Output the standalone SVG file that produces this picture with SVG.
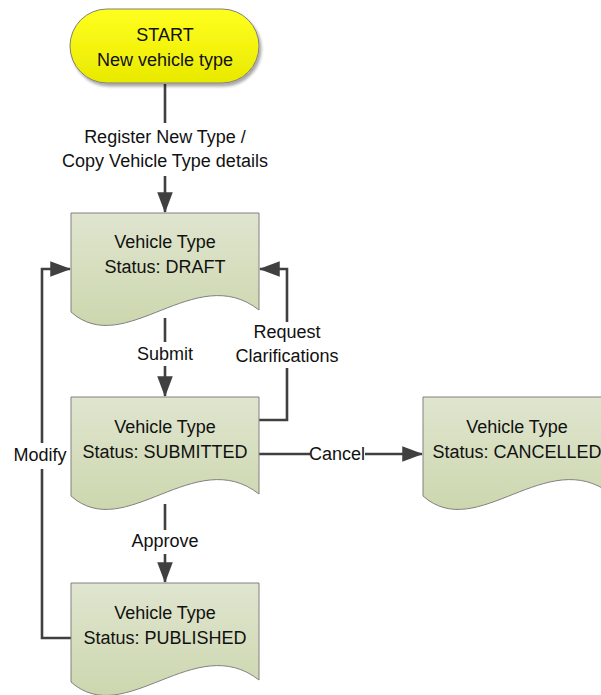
<svg xmlns="http://www.w3.org/2000/svg" width="601" height="695" viewBox="0 0 601 695">
<defs>
<linearGradient id="gGreen" x1="0" y1="0" x2="0" y2="1">
<stop offset="0" stop-color="#e0e5cf"/>
<stop offset="1" stop-color="#ccd7ae"/>
</linearGradient>
<linearGradient id="gYellow" x1="0" y1="0" x2="0" y2="1">
<stop offset="0" stop-color="#ffff20"/>
<stop offset="1" stop-color="#e9e900"/>
</linearGradient>
<filter id="sh" x="-10%" y="-10%" width="130%" height="140%">
<feGaussianBlur in="SourceAlpha" stdDeviation="1.5"/>
<feOffset dx="2" dy="3" result="b"/>
<feComponentTransfer><feFuncA type="linear" slope="0.35"/></feComponentTransfer>
<feMerge><feMergeNode/><feMergeNode in="SourceGraphic"/></feMerge>
</filter>
<marker id="arr" markerWidth="8" markerHeight="6" refX="7.6" refY="3" orient="auto" markerUnits="strokeWidth">
<path d="M0,0 L8,3 L0,6 Z" fill="#404040"/>
</marker>
<path id="doc" d="M0,0 H188 V97 C124,47 54,147 0,99 Z"/>
</defs>
<style>
text{font-family:"Liberation Sans",Arial,sans-serif;font-size:18px;fill:#111111;text-anchor:middle}
.box{fill:url(#gGreen);stroke:#808080;stroke-width:1}
.term{fill:url(#gYellow);stroke:#7f7f7f;stroke-width:1}
.c{fill:none;stroke:#404040;stroke-width:2.6}
.a{marker-end:url(#arr)}
.bg{fill:#ffffff}
</style>

<g id="connectors">
<line class="c a" x1="165" y1="84" x2="165" y2="212"/>
<line class="c a" x1="165" y1="318" x2="165" y2="396"/>
<polyline class="c a" points="259,420 287,420 287,269 260,269"/>
<line class="c a" x1="259" y1="454" x2="422" y2="454"/>
<line class="c a" x1="165" y1="504" x2="165" y2="582"/>
<polyline class="c a" points="71,638 42,638 42,269 70,269"/>
<rect class="bg" x="60" y="123" width="216" height="53"/>
<text x="165" y="143">Register New Type /</text>
<text x="165" y="167">Copy Vehicle Type details</text>
<rect class="bg" x="132" y="342" width="66" height="24"/>
<text x="165" y="360">Submit</text>
<rect class="bg" x="230" y="322" width="114" height="46"/>
<text x="287" y="338">Request</text>
<text x="287" y="362">Clarifications</text>
<rect class="bg" x="310" y="443" width="55" height="22"/>
<text x="337" y="460">Cancel</text>
<rect class="bg" x="126" y="530" width="78" height="24"/>
<text x="165" y="547">Approve</text>
<rect class="bg" x="10" y="443" width="61" height="26"/>
<text x="40" y="461">Modify</text>
</g>

<g id="start">
<rect class="term" x="70" y="9" width="189" height="74" rx="37" ry="37" filter="url(#sh)"/>
<text x="165" y="41">START</text>
<text x="165" y="66">New vehicle type</text>
</g>

<g id="draft">
<use href="#doc" class="box" x="71" y="213"/>
<text x="165" y="248">Vehicle Type</text>
<text x="165" y="273">Status: DRAFT</text>
</g>

<g id="submitted">
<use href="#doc" class="box" x="71" y="397"/>
<text x="165" y="433">Vehicle Type</text>
<text x="165" y="458">Status: SUBMITTED</text>
</g>

<g id="published">
<use href="#doc" class="box" x="71" y="583"/>
<text x="165" y="619">Vehicle Type</text>
<text x="165" y="644">Status: PUBLISHED</text>
</g>

<g id="cancelled">
<use href="#doc" class="box" x="423" y="397"/>
<text x="517" y="433">Vehicle Type</text>
<text x="517" y="458">Status: CANCELLED</text>
</g>
</svg>
